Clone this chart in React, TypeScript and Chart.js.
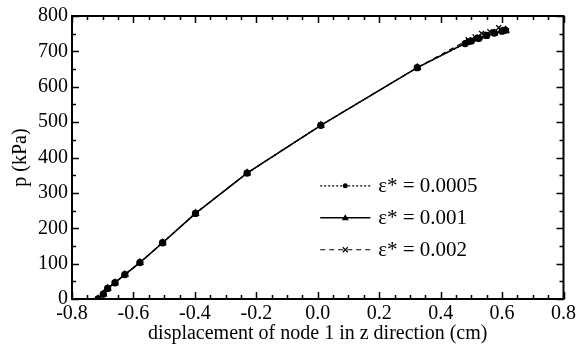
import React, { useEffect, useRef } from "react";
import { Chart, registerables } from "chart.js";

Chart.register(...registerables);

const seriesLabels = ["ε* = 0.0005", "ε* = 0.001", "ε* = 0.002"];

const x0005 = [-0.715, -0.698, -0.684, -0.66, -0.628, -0.579, -0.505, -0.398, -0.23, 0.01, 0.324, 0.48, 0.5, 0.525, 0.55, 0.575, 0.6, 0.61];
const p0005 = [0, 14, 30, 46, 69, 103, 159, 242, 356, 491, 654, 722, 729, 737, 745, 752, 757, 760];

const x001 = [-0.715, -0.698, -0.684, -0.66, -0.628, -0.579, -0.505, -0.398, -0.23, 0.01, 0.324, 0.485, 0.515, 0.545, 0.575, 0.6, 0.612];
const p001 = [0, 14, 30, 46, 69, 103, 159, 242, 356, 491, 654, 725, 735, 743, 752, 757, 760];

const x002 = [-0.715, -0.698, -0.684, -0.66, -0.628, -0.579, -0.505, -0.398, -0.23, 0.01, 0.324, 0.49, 0.512, 0.533, 0.56, 0.589, 0.605, 0.615];
const p002 = [0, 14, 30, 46, 69, 103, 159, 242, 356, 491, 654, 733, 741, 751, 756, 767, 760, 758];

const xMin = -0.8, xMax = 0.8, xMajor = 0.2, xMinor = 0.05;
const yMin = 0, yMax = 800, yMajor = 100, yMinor = 50;

const FONT = "'Liberation Serif', 'Times New Roman', serif";

const pts = (xs: number[], ys: number[]) => xs.map((x, i) => ({ x, y: ys[i] }));

const styles = [
  { dash: [2, 2], width: 1.2, point: "circle", radius: 3 },
  { dash: [], width: 1.6, point: "triangle", radius: 3.5 },
  { dash: [5, 4], width: 1.2, point: "crossRot", radius: 3.5 },
];

const framePlugin = {
  id: "frameTicks",
  afterDraw(chart: any) {
    const { ctx, chartArea: a, scales } = chart;
    const xs = scales.x, ys = scales.y;
    ctx.save();
    ctx.strokeStyle = "#000";
    ctx.lineWidth = 2;
    ctx.setLineDash([]);
    ctx.strokeRect(a.left, a.top, a.right - a.left, a.bottom - a.top);
    ctx.lineWidth = 1.5;
    const nX = Math.round((xMax - xMin) / xMinor);
    for (let i = 0; i <= nX; i++) {
      const v = xMin + i * xMinor;
      const major = Math.abs(v / xMajor - Math.round(v / xMajor)) < 1e-6;
      const len = major ? 7 : 4;
      const px = Math.round(xs.getPixelForValue(v)) + 0.5;
      ctx.beginPath();
      ctx.moveTo(px, a.bottom);
      ctx.lineTo(px, a.bottom - len);
      ctx.moveTo(px, a.top);
      ctx.lineTo(px, a.top + len);
      ctx.stroke();
    }
    const nY = Math.round((yMax - yMin) / yMinor);
    for (let i = 0; i <= nY; i++) {
      const v = yMin + i * yMinor;
      const major = v % yMajor === 0;
      const len = major ? 7 : 4;
      const py = Math.round(ys.getPixelForValue(v)) + 0.5;
      ctx.beginPath();
      ctx.moveTo(a.left, py);
      ctx.lineTo(a.left + len, py);
      ctx.moveTo(a.right, py);
      ctx.lineTo(a.right - len, py);
      ctx.stroke();
    }
    // legend
    const w = a.right - a.left, h = a.bottom - a.top;
    const lx0 = a.left + 0.505 * w;
    const lx1 = a.left + 0.607 * w;
    const tx = a.left + 0.623 * w;
    const rows = [0.6, 0.713, 0.826].map((f) => a.top + f * h);
    ctx.font = `21px ${FONT}`;
    ctx.fillStyle = "#000";
    ctx.textBaseline = "middle";
    rows.forEach((ry, i) => {
      const s = styles[i];
      ctx.lineWidth = s.width;
      ctx.setLineDash(s.dash);
      ctx.beginPath();
      ctx.moveTo(lx0, ry);
      ctx.lineTo(lx1, ry);
      ctx.stroke();
      ctx.setLineDash([]);
      const mx = (lx0 + lx1) / 2;
      ctx.beginPath();
      if (s.point === "circle") {
        ctx.arc(mx, ry, 2.5, 0, Math.PI * 2);
        ctx.fill();
      } else if (s.point === "triangle") {
        ctx.moveTo(mx, ry - 3.5);
        ctx.lineTo(mx + 3.5, ry + 2.5);
        ctx.lineTo(mx - 3.5, ry + 2.5);
        ctx.closePath();
        ctx.fill();
      } else {
        ctx.lineWidth = 1.2;
        ctx.moveTo(mx - 2.5, ry - 2.5);
        ctx.lineTo(mx + 2.5, ry + 2.5);
        ctx.moveTo(mx + 2.5, ry - 2.5);
        ctx.lineTo(mx - 2.5, ry + 2.5);
        ctx.stroke();
      }
      ctx.fillText(seriesLabels[i], tx, ry + 1);
    });
    ctx.restore();
  },
};

export default function App() {
  const ref = useRef<HTMLCanvasElement | null>(null);
  useEffect(() => {
    document.body.style.margin = "0";
    const data = [pts(x0005, p0005), pts(x001, p001), pts(x002, p002)];
    const chart = new Chart(ref.current as HTMLCanvasElement, {
      type: "line",
      data: {
        datasets: data.map((d, i) => ({
          label: seriesLabels[i],
          data: d,
          borderColor: "#000",
          backgroundColor: "#000",
          borderWidth: styles[i].width,
          borderDash: styles[i].dash,
          pointStyle: styles[i].point as any,
          pointRadius: styles[i].radius,
          pointBorderWidth: 1.3,
          pointBorderColor: "#000",
          pointBackgroundColor: "#000",
          tension: 0,
          fill: false,
        })),
      },
      plugins: [framePlugin],
      options: {
        animation: false,
        responsive: false,
        devicePixelRatio: 1,
        layout: { padding: { left: 0, right: 14, top: 14, bottom: 0 } },
        plugins: { legend: { display: false }, tooltip: { enabled: false } },
        scales: {
          x: {
            type: "linear",
            min: xMin,
            max: xMax,
            grid: { display: false, drawTicks: false },
            border: { display: false },
            ticks: {
              stepSize: xMajor,
              color: "#000",
              padding: 3,
              font: { family: FONT, size: 20 },
              callback: (v: any) => (Math.abs(v) < 1e-9 ? "0.0" : Number(v).toFixed(1)),
            },
            title: {
              display: true,
              text: "displacement of node 1 in z direction (cm)",
              color: "#000",
              font: { family: FONT, size: 20 },
              padding: { top: 0, bottom: 11 },
            },
            afterFit: (s: any) => { s.height = 58; },
          },
          y: {
            type: "linear",
            min: yMin,
            max: yMax,
            grid: { display: false, drawTicks: false },
            border: { display: false },
            ticks: {
              stepSize: yMajor,
              color: "#000",
              padding: 4,
              font: { family: FONT, size: 20 },
            },
            title: {
              display: true,
              text: "p (kPa)",
              color: "#000",
              font: { family: FONT, size: 20 },
              padding: { top: 9, bottom: 0 },
            },
            afterFit: (s: any) => { s.width = 72; },
          },
        },
      },
    });
    return () => chart.destroy();
  }, []);
  return (
    <div style={{ width: 579, height: 357 }}>
      <canvas ref={ref} width={579} height={357} style={{ display: "block" }} />
    </div>
  );
}
